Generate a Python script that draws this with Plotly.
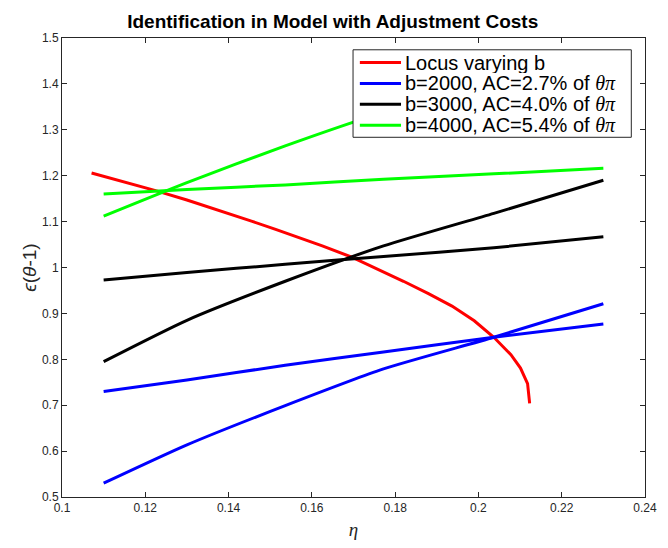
import plotly.graph_objects as go

# values
eta_locus = [0.1071, 0.115, 0.1227, 0.130, 0.138, 0.1455, 0.1513, 0.156, 0.1625, 0.1696,
             0.176, 0.182, 0.188, 0.19365, 0.1990, 0.2037, 0.2078, 0.2101, 0.2118, 0.2123]
v_locus = [1.206, 1.187, 1.167, 1.147, 1.124, 1.101, 1.083, 1.068, 1.047, 1.0225,
           0.996, 0.970, 0.943, 0.916, 0.884, 0.848, 0.810, 0.781, 0.747, 0.704]

eta_b = [0.11, 0.13, 0.1536, 0.1772, 0.2037, 0.23]
b2000_flat = [0.730, 0.755, 0.787, 0.816, 0.848, 0.877]
b2000_steep = [0.530, 0.6135, 0.699, 0.779, 0.848, 0.921]
b3000_flat = [0.973, 0.989, 1.007, 1.024, 1.043, 1.067]
b3000_steep = [0.795, 0.885, 0.970, 1.047, 1.118, 1.190]
b4000_flat = [1.160, 1.170, 1.180, 1.192, 1.204, 1.216]
b4000_steep = [1.112, 1.185, 1.265, 1.338, 1.405, 1.460]

x_ticks = [0.1, 0.12, 0.14, 0.16, 0.18, 0.2, 0.22, 0.24]
x_ticklabels = ["0.1", "0.12", "0.14", "0.16", "0.18", "0.2", "0.22", "0.24"]
y_ticks = [0.5, 0.6, 0.7, 0.8, 0.9, 1.0, 1.1, 1.2, 1.3, 1.4, 1.5]
y_ticklabels = ["0.5", "0.6", "0.7", "0.8", "0.9", "1", "1.1", "1.2", "1.3", "1.4", "1.5"]

theta_pi = "<span style=\"font-family:'Liberation Serif'\"><i>θπ</i></span>"
legend_labels = ["Locus varying b",
                 "b=2000, AC=2.7% of " + theta_pi,
                 "b=3000, AC=4.0% of " + theta_pi,
                 "b=4000, AC=5.4% of " + theta_pi]
colors = ["#ff0000", "#0000ff", "#000000", "#00ff00"]

fig = go.Figure()
fig.add_trace(go.Scatter(x=eta_locus, y=v_locus, mode="lines",
                         line=dict(color=colors[0], width=3)))
for color, flat, steep in zip(colors[1:], [b2000_flat, b3000_flat, b4000_flat],
                              [b2000_steep, b3000_steep, b4000_steep]):
    for vals in (flat, steep):
        fig.add_trace(go.Scatter(x=eta_b, y=vals, mode="lines",
                                 line=dict(color=color, width=3, shape="spline", smoothing=0.6)))

# MATLAB-style legend box (drawn by hand so the rows sit as tight as the original)
box_x0, box_x1, box_top, box_bottom = 0.4992, 0.9765, 0.9743, 0.7837
first_row, row_step = 0.9465, 0.0455
for i, (label, color) in enumerate(zip(legend_labels, colors)):
    ry = first_row - i * row_step
    fig.add_shape(type="line", xref="paper", yref="paper", x0=0.5109, x1=0.5815, y0=ry, y1=ry,
                  line=dict(color=color, width=3), layer="above")
    fig.add_annotation(text=label, xref="paper", yref="paper", x=0.5866, y=ry,
                       xanchor="left", yanchor="middle", showarrow=False, height=20, borderpad=0,
                       font=dict(family="Liberation Sans", size=20, color="black"))
fig.add_shape(type="rect", xref="paper", yref="paper", x0=box_x0, x1=box_x1, y0=box_bottom, y1=box_top,
              fillcolor="white", line=dict(color="#262626", width=1), layer="above")
fig.layout.shapes = (fig.layout.shapes[-1],) + fig.layout.shapes[:-1]

axis_style = dict(showline=True, linecolor="#262626", linewidth=1, mirror="allticks",
                  ticks="inside", ticklen=5, tickcolor="#262626", showgrid=False,
                  zeroline=False, ticklabeloverflow="allow",
                  tickfont=dict(family="Liberation Sans", size=12, color="#262626"))

fig.update_xaxes(range=[0.1, 0.24], tickvals=x_ticks, ticktext=x_ticklabels, **axis_style,
                 title=dict(text="<i>η</i>", font=dict(family="Liberation Serif", size=19, color="#262626"),
                            standoff=8))
fig.update_yaxes(range=[0.5, 1.5], tickvals=y_ticks, ticktext=y_ticklabels, **axis_style,
                 title=dict(text="<i>ϵ</i>(<i>θ</i>-1)", font=dict(family="Liberation Sans", size=19, color="#262626"),
                            standoff=0))

# the page adds an 8px body margin, so the figure is sized to fit inside it
fig.update_layout(
    width=660, height=540,
    margin=dict(l=54, r=11, t=30, b=43),
    plot_bgcolor="white", paper_bgcolor="white",
    title=dict(text="<b>Identification in Model with Adjustment Costs</b>",
               font=dict(family="Liberation Sans", size=19, color="black"),
               x=0.492, xref="container", xanchor="center", y=0.976, yanchor="middle"),
    showlegend=False,
)

fig.write_html("out.html")
